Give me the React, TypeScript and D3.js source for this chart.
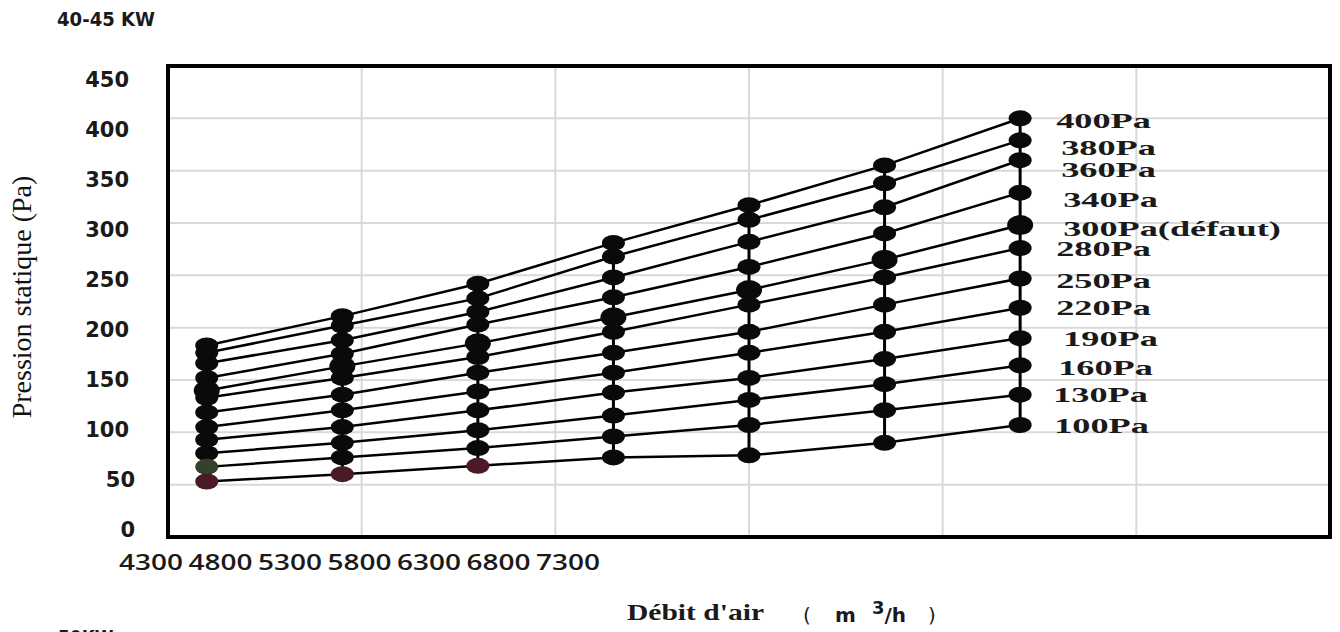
import React, { useEffect, useRef } from "react";
import * as d3 from "d3";

// air flow of each measured column (m3/h)
const flowRates = [4400, 4750, 5100, 5450, 5800, 6150, 6500];

const xTickValues = [4300, 4800, 5300, 5800, 6300, 6800, 7300];
const yTickValues = [0, 50, 100, 150, 200, 250, 300, 350, 400, 450];

const seriesLabels = [
  "400Pa", "380Pa", "360Pa", "340Pa", "300Pa(défaut)", "280Pa",
  "250Pa", "220Pa", "190Pa", "160Pa", "130Pa", "100Pa",
];

// static pressure (Pa) read at each column
const p400 = [183, 211, 242, 281, 317, 355, 400];
const p380 = [176, 202, 228, 268, 303, 338, 379];
const p360 = [166, 188, 215, 248, 282, 315, 360];
const p340 = [152, 175, 203, 229, 258, 290, 329];
const p300 = [140, 163, 185, 210, 236, 265, 298];
const p280 = [133, 152, 172, 196, 222, 248, 276];
const p250 = [119, 136, 157, 176, 196, 222, 247];
const p220 = [105, 121, 139, 157, 176, 196, 219];
const p190 = [93, 105, 121, 138, 152, 170, 190];
const p160 = [80, 90, 102, 116, 131, 146, 164];
const p130 = [67, 76, 85, 96, 107, 121, 136];
const p100 = [53, 60, 68, 76, 78, 90, 107];

const seriesValues = [p400, p380, p360, p340, p300, p280, p250, p220, p190, p160, p130, p100];

export default function App() {
  const ref = useRef<SVGSVGElement>(null);

  useEffect(() => {
    document.body.style.margin = "0";
    document.body.style.overflow = "hidden";
    if (!ref.current) return;
    const svg = d3.select(ref.current);
    svg.selectAll("*").remove();

    const x = d3.scaleLinear().domain([4300, 7300]).range([168, 1330]);
    const y = d3.scaleLinear().domain([0, 450]).range([537, 66]);
    // the printed tick labels sit a bit off the grid
    const yLab = d3.scaleLinear().domain([0, 450]).range([530, 80]);
    const xLab = d3.scalePoint<number>().domain(xTickValues).range([151, 568]);

    // grid
    const grid = svg.append("g").attr("stroke", "#d9d9d9").attr("stroke-width", 2);
    grid.selectAll("line.v")
      .data(xTickValues.slice(1, -1))
      .join("line")
      .attr("x1", (d) => x(d)).attr("x2", (d) => x(d))
      .attr("y1", y(450)).attr("y2", y(0));
    grid.selectAll("line.h")
      .data(yTickValues.slice(1, -1))
      .join("line")
      .attr("x1", x(4300)).attr("x2", x(7300))
      .attr("y1", (d) => y(d)).attr("y2", (d) => y(d));

    // frame
    svg.append("rect")
      .attr("x", x(4300)).attr("y", y(450))
      .attr("width", x(7300) - x(4300)).attr("height", y(0) - y(450))
      .attr("fill", "none").attr("stroke", "#000").attr("stroke-width", 4);

    // y tick labels
    const yAxis = svg.append("g")
      .attr("transform", "translate(129,0)")
      .call(d3.axisLeft(yLab).tickValues(yTickValues).tickSize(0).tickPadding(0));
    yAxis.select(".domain").remove();
    yAxis.selectAll<SVGTextElement, number>("text")
      .attr("dx", (d) => (d < 100 ? 6 : 0))
      .attr("font-family", "DejaVu Sans")
      .attr("font-weight", "bold")
      .attr("font-size", 21)
      .attr("fill", "#1a1a1a");

    // x tick labels (squeezed on the left, as printed)
    svg.append("g")
      .selectAll("text")
      .data(xTickValues)
      .join("text")
      .attr("x", (d) => xLab(d) as number)
      .attr("y", 570)
      .attr("text-anchor", "middle")
      .attr("font-family", "Open Sans")
      .attr("font-weight", 600)
      .attr("font-size", 21)
      .attr("textLength", 64)
      .attr("lengthAdjust", "spacingAndGlyphs")
      .attr("fill", "#1a1a1a")
      .text((d) => String(d));

    const line = d3.line<number>()
      .x((_, i) => x(flowRates[i]))
      .y((d) => y(d));

    // vertical connectors at each column
    svg.append("g")
      .selectAll("line")
      .data(flowRates.map((f, i) => ({ f, vals: seriesValues.map((s) => s[i]) })))
      .join("line")
      .attr("x1", (d) => x(d.f)).attr("x2", (d) => x(d.f))
      .attr("y1", (d) => y(d3.max(d.vals) as number))
      .attr("y2", (d) => y(d3.min(d.vals) as number))
      .attr("stroke", "#000").attr("stroke-width", 3);

    // series lines
    svg.append("g")
      .selectAll("path")
      .data(seriesValues)
      .join("path")
      .attr("d", (d) => line(d))
      .attr("fill", "none")
      .attr("stroke", "#000")
      .attr("stroke-width", 2.5);

    // dots
    const tinted: Record<string, string> = {
      "10-0": "#34422b",
      "11-0": "#4a1b25",
      "11-1": "#4a1b25",
      "11-2": "#4a1b25",
    };
    seriesValues.forEach((vals, si) => {
      const big = si === 4;
      svg.append("g")
        .selectAll("ellipse")
        .data(vals)
        .join("ellipse")
        .attr("cx", (_, i) => x(flowRates[i]))
        .attr("cy", (d) => y(d))
        .attr("rx", big ? 13 : 11.5)
        .attr("ry", big ? 10 : 8)
        .attr("fill", (_, i) => tinted[`${si}-${i}`] || "#0a0a0a");
    });

    // series labels at the right end
    const labelNudge = [2, 7, 9, 7, 3, 0, 2, 0, 0, 2, 0, 0];
    const labelDx = [36, 41, 41, 43, 43, 36, 36, 36, 43, 38, 33, 34];
    svg.append("g")
      .selectAll("g")
      .data(seriesLabels)
      .join("g")
      .attr("transform", (_, i) => {
        const vals = seriesValues[i];
        const last = vals[vals.length - 1];
        return `translate(${x(flowRates[flowRates.length - 1]) + labelDx[i]},${y(last) + labelNudge[i]})`;
      })
      .append("text")
      .attr("transform", "scale(1.65,1)")
      .attr("dy", "0.35em")
      .attr("font-family", "Liberation Serif")
      .attr("font-weight", "bold")
      .attr("font-size", 22)
      .attr("fill", "#1a1a1a")
      .text((d) => d);

    // axis titles
    svg.append("text")
      .attr("transform", "translate(31,297) rotate(-90)")
      .attr("text-anchor", "middle")
      .attr("font-family", "Liberation Serif")
      .attr("font-size", 28)
      .attr("fill", "#111")
      .text("Pression statique (Pa)");

    svg.append("text")
      .attr("x", 627).attr("y", 620)
      .attr("font-family", "Liberation Serif")
      .attr("font-weight", "bold")
      .attr("font-size", 23)
      .attr("textLength", 137)
      .attr("lengthAdjust", "spacingAndGlyphs")
      .attr("fill", "#1a1a1a")
      .text("Débit d'air");

    const unit = svg.append("text")
      .attr("y", 622)
      .attr("font-family", "DejaVu Sans")
      .attr("fill", "#1a1a1a");
    unit.append("tspan").attr("x", 803).attr("font-size", 20).text("(");
    unit.append("tspan").attr("x", 835).attr("font-size", 20).attr("font-weight", "bold").text("m");
    unit.append("tspan").attr("x", 872).attr("dy", -8).attr("font-size", 18).attr("font-weight", "bold").text("3");
    unit.append("tspan").attr("dy", 8).attr("font-size", 20).attr("font-weight", "bold").text("/h");
    unit.append("tspan").attr("x", 928).attr("font-size", 20).text(")");

    svg.append("text")
      .attr("x", 57).attr("y", 26)
      .attr("font-family", "DejaVu Sans")
      .attr("font-weight", "bold")
      .attr("font-size", 19)
      .attr("textLength", 98)
      .attr("lengthAdjust", "spacingAndGlyphs")
      .attr("fill", "#1a1a1a")
      .text("40-45 KW");

    svg.append("text")
      .attr("x", 58).attr("y", 643)
      .attr("font-family", "DejaVu Sans")
      .attr("font-weight", "bold")
      .attr("font-size", 17)
      .attr("fill", "#1a1a1a")
      .text("50KW");
  }, []);

  return (
    <svg
      ref={ref}
      width={1340}
      height={632}
      style={{ position: "absolute", left: 0, top: 0, background: "#fff" }}
    />
  );
}
